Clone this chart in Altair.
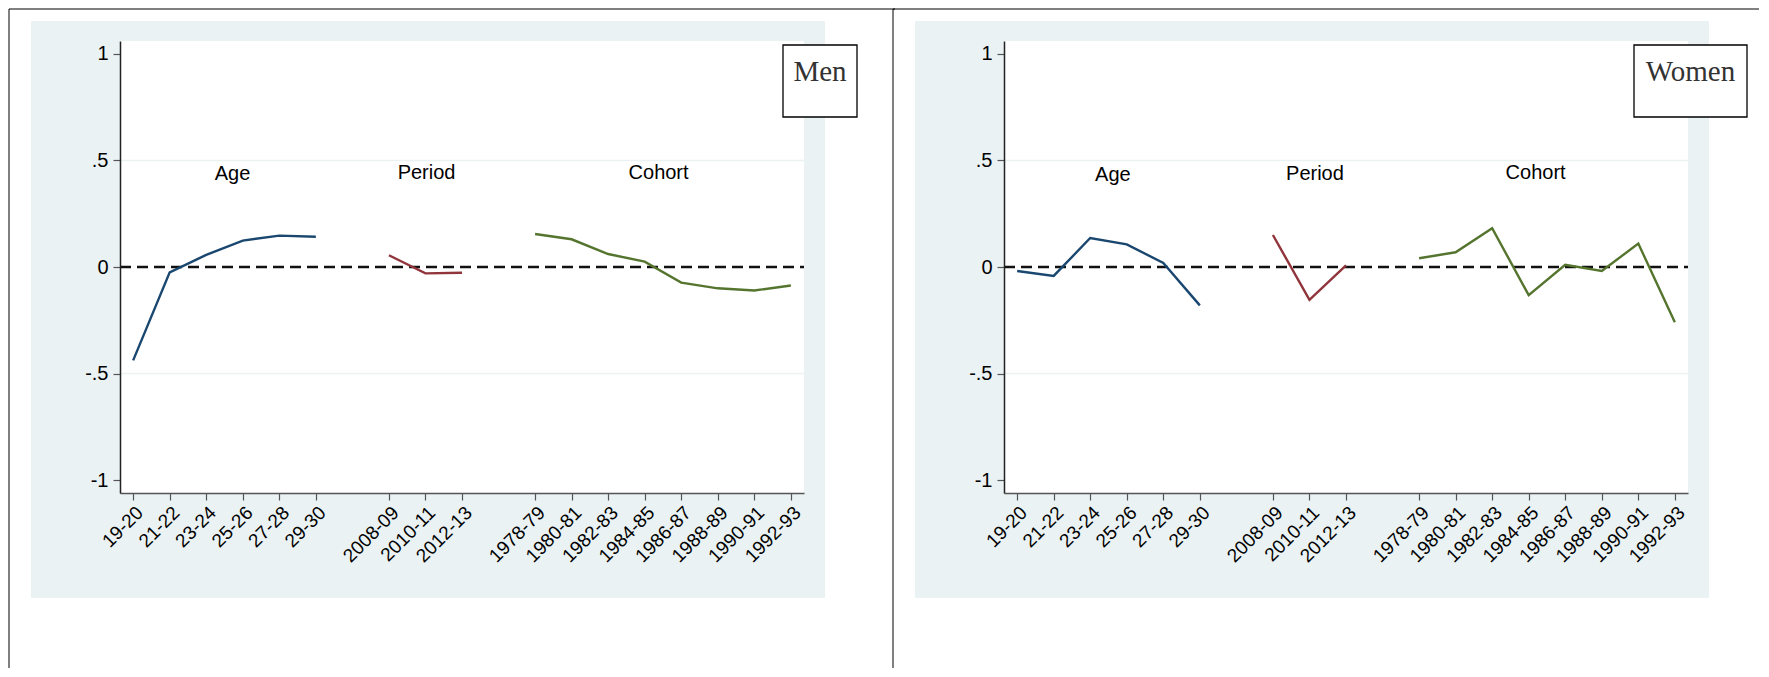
import json
import altair as alt
import pandas as pd

# ---------------- data ----------------
age_labels = ["19-20", "21-22", "23-24", "25-26", "27-28", "29-30"]
period_labels = ["2008-09", "2010-11", "2012-13"]
cohort_labels = ["1978-79", "1980-81", "1982-83", "1984-85",
                 "1986-87", "1988-89", "1990-91", "1992-93"]

age_pos = [0, 1, 2, 3, 4, 5]
period_pos = [7, 8, 9]
cohort_pos = [11, 12, 13, 14, 15, 16, 17, 18]

men_age = [-0.438, -0.025, 0.057, 0.124, 0.147, 0.142]
men_period = [0.055, -0.030, -0.027]
men_cohort = [0.155, 0.130, 0.061, 0.025, -0.073, -0.100, -0.110, -0.087]

women_age = [-0.019, -0.042, 0.136, 0.106, 0.019, -0.180]
women_period = [0.150, -0.154, 0.008]
women_cohort = [0.041, 0.069, 0.182, -0.132, 0.010, -0.019, 0.110, -0.259]

group_names = ["Age", "Period", "Cohort"]
group_colors = ["#1a476f", "#90353b", "#55752f"]

men_label_x = [2.72, 8.03, 14.38]
men_label_y = [0.437, 0.44, 0.44]
women_label_x = [2.62, 8.15, 14.19]
women_label_y = [0.43, 0.437, 0.44]

y_ticks = [-1, -0.5, 0, 0.5, 1]
y_tick_labels = ["-1", "-.5", "0", ".5", "1"]
grid_values = [-0.5, 0.5]

# ---------------- helpers ----------------
W, H = 684, 452
all_pos = age_pos + period_pos + cohort_pos
all_labels = [""] * 19
for p, l in zip(all_pos, age_labels + period_labels + cohort_labels):
    all_labels[p] = l
x_label_expr = json.dumps(all_labels) + "[datum.value]"

y_label_expr = ""
for v, l in zip(y_ticks, y_tick_labels):
    y_label_expr += f"datum.value == {v} ? '{l}' : "
y_label_expr += "''"

FONT = "Liberation Sans"

X = alt.X(
    "pos:Q",
    scale=alt.Scale(domain=[-0.36, 18.36], nice=False, zero=False),
    axis=alt.Axis(
        values=all_pos, labelExpr=x_label_expr, labelAngle=-45, title=None,
        grid=False, labelFontSize=19, labelFont=FONT, labelColor="black",
        tickSize=7, tickColor="#555", tickWidth=1.2, domainColor="#555",
        domainWidth=1.5, labelPadding=3, labelOverlap=False, labelFlush=False,
        labelBound=False, zindex=1,
    ),
)
Y = alt.Y(
    "value:Q",
    scale=alt.Scale(domain=[-1.06, 1.06], nice=False, zero=False),
    axis=alt.Axis(
        values=y_ticks, labelExpr=y_label_expr, title=None, grid=False,
        labelFontSize=20, labelFont=FONT, labelColor="black", tickSize=7,
        tickColor="#555", tickWidth=1.2, domainColor="#222", domainWidth=1.5,
        labelPadding=5, labelFlush=False, labelBound=False, zindex=1,
    ),
)


def panel(name, age, period, cohort, lab_x, lab_y, box_x0, box_x1, top_right):
    rows = []
    for g, pos, vals in zip(group_names, [age_pos, period_pos, cohort_pos],
                            [age, period, cohort]):
        for p, v in zip(pos, vals):
            rows.append({"pos": p, "value": v, "group": g})
    df = pd.DataFrame(rows)
    lab_df = pd.DataFrame({"pos": lab_x, "value": lab_y, "text": group_names})
    one = pd.DataFrame({"k": [0]})

    bg = alt.Chart(one).mark_rect(color="#EAF2F3").encode(
        x=alt.value(-89), x2=alt.value(W + 21),
        y=alt.value(-20), y2=alt.value(H + 105))
    white = alt.Chart(one).mark_rect(color="white").encode(
        x=alt.value(0), x2=alt.value(W), y=alt.value(0), y2=alt.value(H))
    grid = alt.Chart(pd.DataFrame({"value": grid_values})).mark_rule(
        color="#EAF2F3", strokeWidth=1.5).encode(
        y=Y, x=alt.value(0), x2=alt.value(W))
    zero = alt.Chart(pd.DataFrame({"value": [0]})).mark_rule(
        color="#111", strokeWidth=2.3, strokeDash=[11, 6]).encode(
        y=Y, x=alt.value(0), x2=alt.value(W))
    lines = alt.Chart(df).mark_line(strokeWidth=2.4).encode(
        x=X, y=Y,
        color=alt.Color("group:N", scale=alt.Scale(domain=group_names,
                                                   range=group_colors),
                        legend=None),
    )
    labels = alt.Chart(lab_df).mark_text(
        font=FONT, fontSize=20, color="black", baseline="middle",
        align="center").encode(x=X, y=Y, text="text:N")
    box = alt.Chart(one).mark_rect(fill="white", stroke="black",
                                   strokeWidth=1.3).encode(
        x=alt.value(box_x0), x2=alt.value(box_x1),
        y=alt.value(4), y2=alt.value(76))
    box_text = alt.Chart(pd.DataFrame({"t": [name]})).mark_text(
        font="Liberation Serif", fontSize=29, color="#333",
        baseline="alphabetic", align="center").encode(
        x=alt.value((box_x0 + box_x1) / 2), y=alt.value(39.5), text="t:N")
    left_line = alt.Chart(one).mark_rule(color="black", strokeWidth=1).encode(
        x=alt.value(-111), y=alt.value(-32), y2=alt.value(627))
    top_line = alt.Chart(one).mark_rule(color="black", strokeWidth=1).encode(
        x=alt.value(-111), x2=alt.value(top_right), y=alt.value(-32))

    return alt.layer(bg, white, grid, zero, lines, labels, box, box_text,
                     left_line, top_line).properties(width=W, height=H)


men = panel("Men", men_age, men_period, men_cohort, men_label_x, men_label_y,
            663, 737, W + 91)
women = panel("Women", women_age, women_period, women_cohort, women_label_x,
              women_label_y, 630, 743, 755)

chart = alt.hconcat(men, women, spacing=200, bounds="flush").properties(
    padding=0
).configure_view(strokeWidth=0)

chart.save("out.html", embed_options={"renderer": "svg", "actions": False})
